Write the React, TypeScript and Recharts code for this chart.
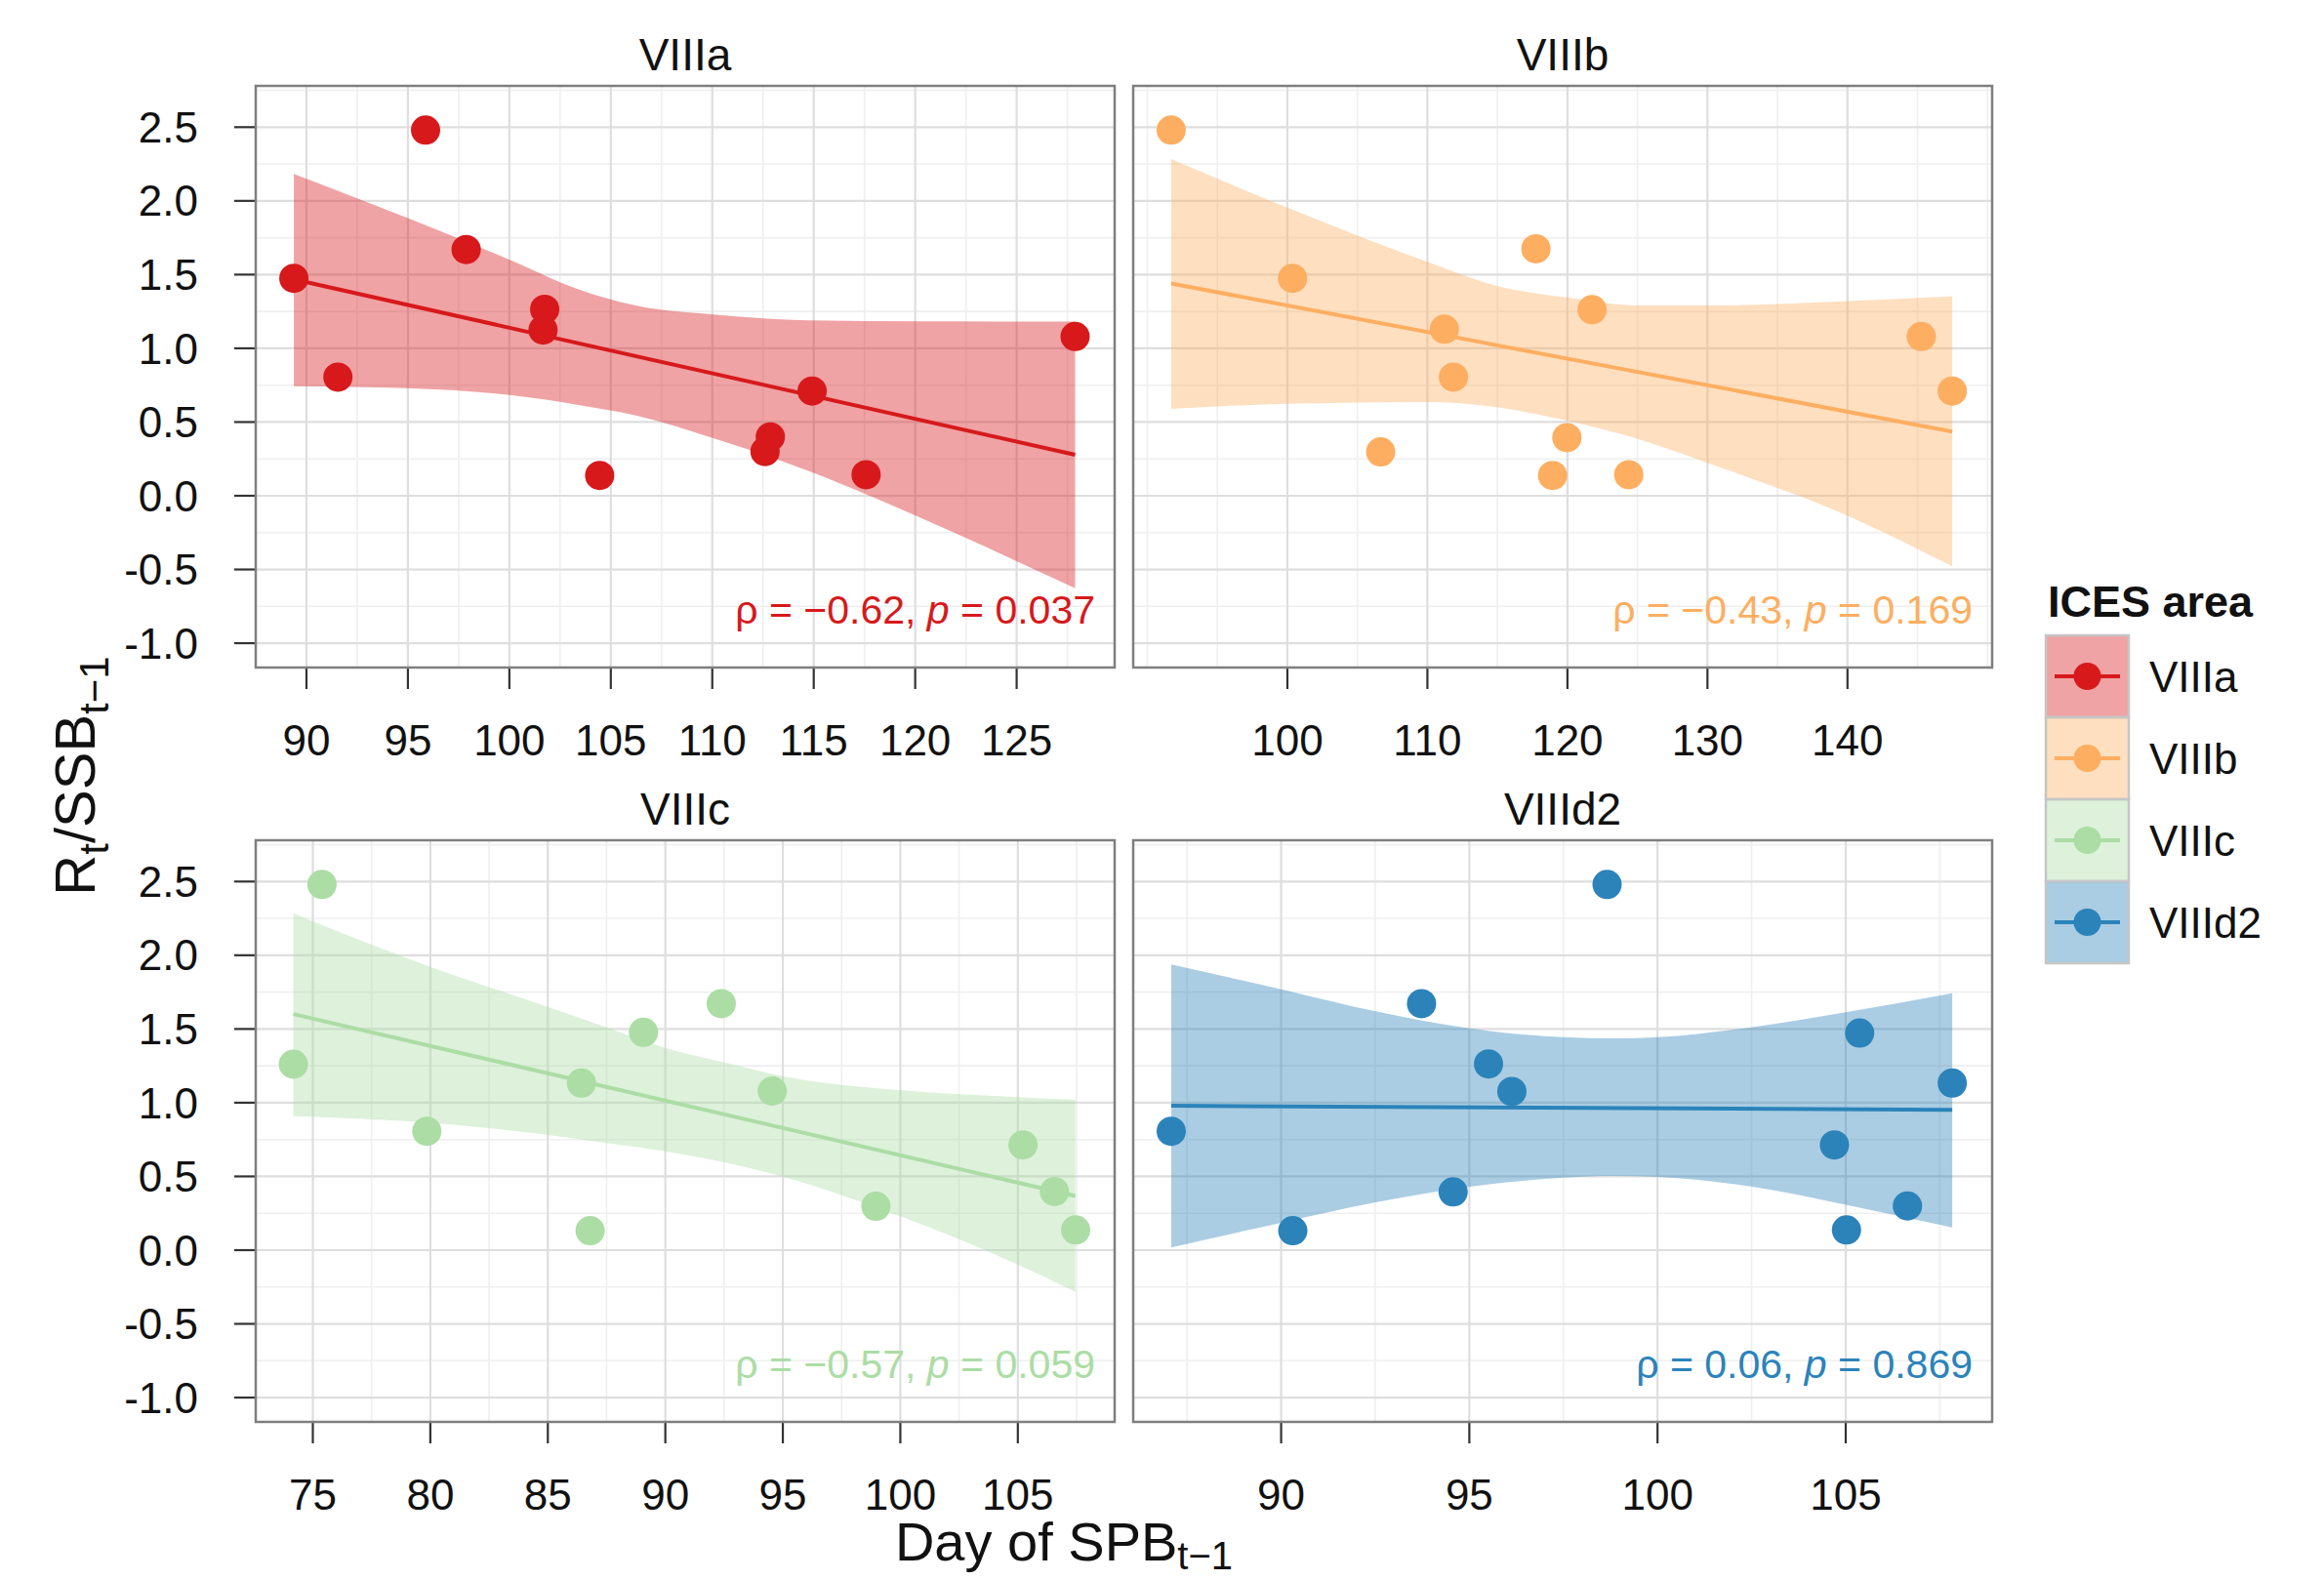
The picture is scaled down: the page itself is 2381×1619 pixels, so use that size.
import React from 'react';
import { ComposedChart, XAxis, YAxis, CartesianGrid, Area, Line, Scatter } from 'recharts';

const FONT = '"Liberation Sans", Arial, Helvetica, sans-serif';

// ICES areas, colours and correlation labels
const areas = ['VIIIa', 'VIIIb', 'VIIIc', 'VIIId2'];
const colors = ['#D7191C', '#FDAE61', '#ABDDA4', '#2B83BA'];
const rhoLabels = ['\u22120.62', '\u22120.43', '\u22120.57', '0.06'];
const pLabels = ['0.037', '0.169', '0.059', '0.869'];

// points: day of SPB (t-1) and R/SSB
const dayA = [89.38, 91.55, 95.87, 97.87, 101.74, 101.66, 104.45, 112.6, 112.86, 114.92, 117.58, 127.88];
const ratioA = [1.475, 0.805, 2.48, 1.67, 1.265, 1.124, 0.138, 0.3, 0.399, 0.71, 0.143, 1.08];
const dayB = [91.7, 100.37, 106.66, 111.21, 111.86, 117.75, 119.96, 118.94, 121.76, 124.38, 145.27, 147.48];
const ratioB = [2.48, 1.475, 0.297, 1.13, 0.805, 1.675, 0.394, 0.138, 1.262, 0.143, 1.08, 0.71];
const dayC = [74.17, 75.39, 79.85, 86.43, 86.8, 89.07, 92.38, 94.55, 98.96, 105.22, 106.56, 107.46];
const ratioC = [1.261, 2.48, 0.806, 1.133, 0.132, 1.477, 1.672, 1.079, 0.297, 0.714, 0.397, 0.137];
const dayD = [87.08, 90.31, 93.73, 94.57, 95.51, 96.13, 98.66, 104.7, 105.37, 105.02, 106.64, 107.83];
const ratioD = [0.806, 0.132, 1.672, 0.395, 1.263, 1.076, 2.48, 0.714, 1.472, 0.137, 0.3, 1.133];

// confidence band (x, lower, upper)
const bandXA = [89.38, 94.94, 100.02, 103.41, 106.23, 110.46, 114.7, 120.34, 127.88];
const bandLoA = [0.743, 0.729, 0.683, 0.616, 0.545, 0.373, 0.17, -0.154, -0.628];
const bandHiA = [2.183, 1.886, 1.6, 1.4, 1.29, 1.225, 1.19, 1.183, 1.181];
const bandXB = [91.7, 100.0, 109.9, 114.81, 119.96, 125.03, 129.98, 140.0, 147.48];
const bandLoB = [0.589, 0.624, 0.635, 0.603, 0.51, 0.386, 0.224, -0.135, -0.479];
const bandHiB = [2.283, 1.954, 1.59, 1.427, 1.345, 1.291, 1.29, 1.32, 1.354];
const bandXC = [74.17, 80.02, 85.0, 87.5, 90.01, 92.62, 95.03, 100.0, 105.0, 107.45];
const bandLoC = [0.909, 0.863, 0.781, 0.727, 0.67, 0.592, 0.497, 0.23, -0.098, -0.283];
const bandHiC = [2.284, 1.92, 1.65, 1.51, 1.37, 1.269, 1.179, 1.085, 1.038, 1.02];
const bandXD = [87.08, 90.0, 92.48, 95.01, 97.5, 98.87, 100.01, 102.52, 105.0, 107.83];
const bandLoD = [0.018, 0.186, 0.322, 0.43, 0.492, 0.503, 0.497, 0.43, 0.308, 0.154];
const bandHiD = [1.937, 1.769, 1.621, 1.504, 1.444, 1.436, 1.444, 1.513, 1.613, 1.742];

// fitted line, start and end values
const fitStart = [1.468, 1.44, 1.601, 0.979];
const fitEnd = [0.278, 0.435, 0.367, 0.952];

// ticks and grid
const yMajor = [-1, -0.5, 0, 0.5, 1, 1.5, 2, 2.5];
const yMinor = [-0.75, -0.25, 0.25, 0.75, 1.25, 1.75, 2.25, 2.75];
const xMajorA = [90, 95, 100, 105, 110, 115, 120, 125];
const xMinorA = [92.5, 97.5, 102.5, 107.5, 112.5, 117.5, 122.5, 127.5];
const xMajorB = [100, 110, 120, 130, 140];
const xMinorB = [90, 95, 105, 115, 125, 135, 145, 150];
const xMajorC = [75, 80, 85, 90, 95, 100, 105];
const xMinorC = [77.5, 82.5, 87.5, 92.5, 97.5, 102.5, 107.5];
const xMajorD = [90, 95, 100, 105];
const xMinorD = [87.5, 92.5, 97.5, 102.5, 107.5];

const days = [dayA, dayB, dayC, dayD];
const ratios = [ratioA, ratioB, ratioC, ratioD];
const bandX = [bandXA, bandXB, bandXC, bandXD];
const bandLo = [bandLoA, bandLoB, bandLoC, bandLoD];
const bandHi = [bandHiA, bandHiB, bandHiC, bandHiD];
const xMajor = [xMajorA, xMajorB, xMajorC, xMajorD];
const xMinor = [xMinorA, xMinorB, xMinorC, xMinorD];
const xDomain: [number, number][] = [[87.5, 129.83], [88.99, 150.33], [72.57, 109.12], [86.07, 108.89]];
const Y_DOMAIN: [number, number] = [-1.165, 2.78];

const PANEL_W = 880;
const PANEL_H = 596;
const Y_AXIS_W = 200;
const X_AXIS_H = 110;
const panelPos = [
  { left: 262, top: 88 },
  { left: 1161, top: 88 },
  { left: 262, top: 861 },
  { left: 1161, top: 861 },
];

const tickStyle = { fontSize: 44, fill: '#111', fontFamily: FONT };
const tickLine = { stroke: '#333', strokeWidth: 2.2 };

function Panel({ idx }: { idx: number }) {
  const showY = idx % 2 === 0;
  const pos = panelPos[idx];
  const leftPad = showY ? Y_AXIS_W : 0;
  const color = colors[idx];
  const n = bandX[idx].length;
  const points = days[idx].map((x, i) => ({ x, y: ratios[idx][i] }));
  const band = bandX[idx].map((x, i) => ({
    x,
    band: [bandLo[idx][i], bandHi[idx][i]],
    fit: i === 0 ? fitStart[idx] : i === n - 1 ? fitEnd[idx] : null,
  }));

  return (
    <div style={{ position: 'absolute', left: pos.left - leftPad, top: pos.top }}>
      <ComposedChart
        width={PANEL_W + leftPad}
        height={PANEL_H + X_AXIS_H}
        data={band}
        margin={{ top: 0, right: 0, bottom: 0, left: 0 }}
      >
        <CartesianGrid horizontalValues={yMinor} verticalValues={xMinor[idx]} stroke="#efefef" strokeWidth={1.6} />
        <CartesianGrid horizontalValues={yMajor} verticalValues={xMajor[idx]} stroke="#dedede" strokeWidth={2.2} />
        <XAxis
          type="number"
          dataKey="x"
          domain={xDomain[idx]}
          allowDataOverflow
          ticks={xMajor[idx]}
          interval={0}
          height={X_AXIS_H}
          tickSize={22}
          tickMargin={37}
          axisLine={false}
          tickLine={tickLine}
          tick={tickStyle}
        />
        <YAxis
          type="number"
          domain={Y_DOMAIN}
          allowDataOverflow
          ticks={yMajor}
          interval={0}
          hide={!showY}
          width={Y_AXIS_W}
          tickSize={22}
          tickMargin={37}
          axisLine={false}
          tickLine={tickLine}
          tick={tickStyle}
          tickFormatter={(v: number) => v.toFixed(1)}
        />
        <Area type="monotone" dataKey="band" stroke="none" fill={color} fillOpacity={0.4} isAnimationActive={false} />
        <Line type="linear" dataKey="fit" stroke={color} strokeWidth={4} dot={false} connectNulls isAnimationActive={false} />
        <Scatter
          data={points}
          dataKey="y"
          fill={color}
          isAnimationActive={false}
          shape={(p: any) => <circle cx={p.cx} cy={p.cy} r={15} fill={color} />}
        />
      </ComposedChart>
    </div>
  );
}

export default function App() {
  return (
    <div style={{ position: 'absolute', left: 0, top: 0, width: 2381, height: 1619, background: '#fff', fontFamily: FONT }}>
      {areas.map((a, i) => (
        <Panel key={a} idx={i} />
      ))}
      <svg width={2381} height={1619} style={{ position: 'absolute', left: 0, top: 0, pointerEvents: 'none' }} fontFamily={FONT}>
        {areas.map((a, i) => {
          const pos = panelPos[i];
          return (
            <g key={a}>
              <rect x={pos.left} y={pos.top} width={PANEL_W} height={PANEL_H} fill="none" stroke="#7f7f7f" strokeWidth={2.5} />
              <text x={pos.left + PANEL_W / 2} y={pos.top - 16.5} textAnchor="middle" fontSize={46} fill="#111">
                {a}
              </text>
              <text x={pos.left + PANEL_W - 20} y={pos.top + PANEL_H - 45} textAnchor="end" fontSize={41} fill={colors[i]}>
                {'\u03c1 = ' + rhoLabels[i] + ', '}
                <tspan fontStyle="italic">p</tspan>
                {' = ' + pLabels[i]}
              </text>
            </g>
          );
        })}

        <text transform="translate(97,795) rotate(-90)" textAnchor="middle" fontSize={58} fill="#111">
          R<tspan fontSize={42} dy={14}>t</tspan>
          <tspan dy={-14}>/SSB</tspan>
          <tspan fontSize={42} dy={14}>t{'\u2212'}1</tspan>
        </text>
        <text x={1090} y={1599} textAnchor="middle" fontSize={56} fill="#111">
          Day of SPB<tspan fontSize={40} dy={9}>t{'\u2212'}1</tspan>
        </text>

        <text x={2098} y={632} fontSize={45} fontWeight="bold" fill="#111">
          ICES area
        </text>
        {areas.map((a, i) => {
          const top = 651 + i * 84;
          return (
            <g key={'leg' + a}>
              <rect x={2096} y={top} width={85} height={84} fill={colors[i]} fillOpacity={0.4} stroke="#c6c6c6" strokeWidth={2.5} />
              <line x1={2105} x2={2172} y1={top + 42} y2={top + 42} stroke={colors[i]} strokeWidth={4} />
              <circle cx={2138.5} cy={top + 42} r={14} fill={colors[i]} />
              <text x={2202} y={top + 58} fontSize={44} fill="#111">
                {a}
              </text>
            </g>
          );
        })}
      </svg>
    </div>
  );
}
